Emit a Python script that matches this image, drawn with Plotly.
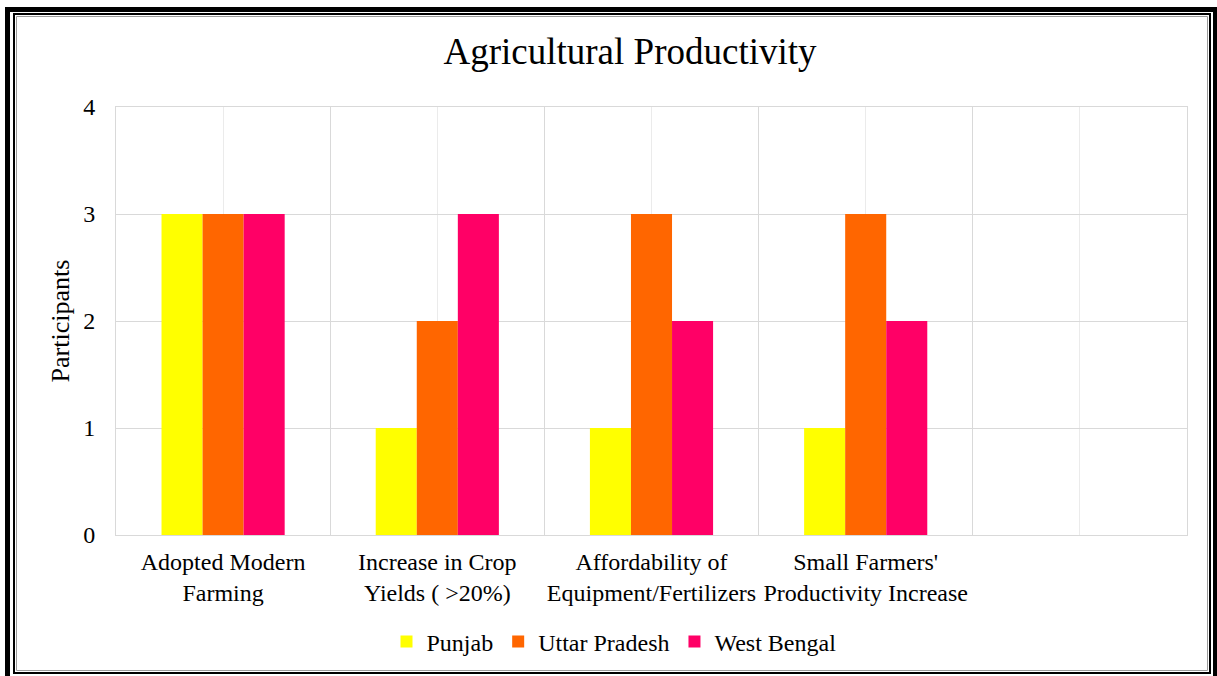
import plotly.graph_objects as go

# Survey categories (the fifth slot is left empty on purpose)
categories = [
    "Adopted Modern<br>Farming",
    "Increase in Crop<br>Yields ( >20%)",
    "Affordability of<br>Equipment/Fertilizers",
    "Small Farmers'<br>Productivity Increase",
    "",
]
punjab = [3, 1, 1, 1]
uttar_pradesh = [3, 2, 3, 3]
west_bengal = [3, 3, 2, 2]
y_ticks = [0, 1, 2, 3, 4]

series = [
    ("Punjab", punjab, "#FFFF00"),
    ("Uttar Pradesh", uttar_pradesh, "#FF6600"),
    ("West Bengal", west_bengal, "#FF0066"),
]

W, H = 1217, 676
ML, MR, MT, MB = 116, 30, 107, 141
PW, PH = W - ML - MR, H - MT - MB
FONT = "Liberation Serif"

positions = list(range(len(categories)))

fig = go.Figure()
for name, vals, color in series:
    fig.add_trace(go.Bar(
        x=positions[:len(vals)], y=vals, name=name,
        marker=dict(color=color, line=dict(width=0)),
    ))


def px_x(p):
    return (p - ML) / PW


def px_y(p):
    return (H - MB - p) / PH


def frame(x0, y0, x1, y1, width, color):
    return dict(type="rect", xref="paper", yref="paper",
                x0=px_x(x0), x1=px_x(x1), y0=px_y(y0), y1=px_y(y1),
                line=dict(color=color, width=width), fillcolor="rgba(0,0,0,0)",
                layer="above")


fig.update_layout(
    width=W, height=H,
    margin=dict(l=ML, r=MR, t=MT, b=MB, pad=0),
    paper_bgcolor="white", plot_bgcolor="white",
    font=dict(family=FONT, size=24, color="black"),
    title=dict(text="Agricultural Productivity", font=dict(size=37, family=FONT),
               x=630 / W, xref="container", xanchor="center",
               y=1 - 51 / H, yref="container", yanchor="middle"),
    barmode="group", bargap=0.425, bargroupgap=0,
    showlegend=True,
    legend=dict(orientation="h", x=px_x(614), xanchor="center",
                y=px_y(642), yanchor="middle",
                font=dict(size=24, family=FONT), traceorder="normal"),
    xaxis=dict(
        range=[-0.5, len(categories) - 0.5],
        tickmode="array", tickvals=positions, ticktext=categories,
        showgrid=True, gridcolor="#EBEBEB", gridwidth=1,
        minor=dict(tick0=0.5, dtick=1, showgrid=True, gridcolor="#D9D9D9", gridwidth=1),
        showline=True, mirror=True, linecolor="#D9D9D9", linewidth=1,
        ticks="", zeroline=False, ticklabelstandoff=5,
        tickfont=dict(size=24, family=FONT),
    ),
    yaxis=dict(
        range=[0, 4], tickmode="array", tickvals=y_ticks,
        showgrid=True, gridcolor="#D9D9D9", gridwidth=1,
        showline=True, mirror=True, linecolor="#D9D9D9", linewidth=1,
        zeroline=False, ticks="", ticklabelstandoff=15,
        tickfont=dict(size=24, family=FONT),
        title=dict(text="Participants", font=dict(size=26, family=FONT), standoff=6),
    ),
    shapes=[
        frame(7.5, 9.5, 1215.5, 679, 5, "black"),
        frame(14, 14, 1210, 673, 2, "black"),
        frame(16.5, 16.5, 1207.5, 670.5, 1, "#9A9A9A"),
    ],
)

fig.write_html("out.html")
